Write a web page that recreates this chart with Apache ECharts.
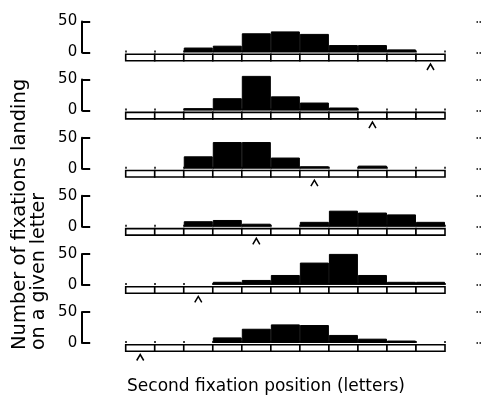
<!DOCTYPE html>
<html>
<head>
<meta charset="utf-8">
<script src="https://cdn.jsdelivr.net/npm/echarts@6/dist/echarts.min.js"></script>
<style>
  html, body { margin: 0; padding: 0; background: #fff; }
  #main { width: 481px; height: 406px; }
</style>
</head>
<body>
<div id="main"></div>
<script>
// letter positions along the strip
var letters = ["1", "2", "3", "4", "5", "6", "7", "8", "9", "10", "11"];
// fixation counts per letter, one array per panel (top to bottom)
var panel1 = [0, 0, 8, 11, 31, 34, 30, 12, 12, 5, 0];
var panel2 = [0, 0, 4, 20, 56, 23, 13, 5, 0, 0, 0];
var panel3 = [0, 0, 20, 43, 43, 18, 4, 0, 5, 0, 0];
var panel4 = [0, 0, 9, 11, 5, 0, 8, 26, 23, 20, 8];
var panel5 = [0, 0, 0, 5, 8, 16, 36, 50, 16, 5, 5];
var panel6 = [0, 0, 0, 9, 23, 30, 29, 13, 7, 4, 0];
// letter marked by the caret under each strip (1-based)
var carets = [11, 9, 7, 5, 3, 1];
var yTicks = [0, 50];

var panels = [panel1, panel2, panel3, panel4, panel5, panel6];

var chartDom = document.getElementById("main");
var myChart = echarts.init(chartDom);
var font = "DejaVu Sans";

// draws the row of letter boxes under the bars, plus the caret
function renderStrip(params, api) {
    var pt = api.coord([api.value(0), 0]);
    var w = api.size([1, 0])[0];
    var y = pt[1];
    var children = [
        {
            type: "rect",
            shape: { x: pt[0] - w / 2, y: y + 1.8, width: w, height: 6.5 },
            style: { fill: "#fff", stroke: "#000", lineWidth: 1.6 },
        },
    ];
    if (api.value(2)) {
        children.push({
            type: "polyline",
            shape: {
                points: [
                    [pt[0] - 3.5, y + 17.5],
                    [pt[0], y + 11.5],
                    [pt[0] + 3.5, y + 17.5],
                ],
            },
            style: { fill: null, stroke: "#000", lineWidth: 1.5 },
        });
    }
    return { type: "group", children: children };
}

var grids = [], xAxes = [], yAxes = [], series = [];
for (let i = 0; i < panels.length; i++) {
    let base = 52.5 + 58.1 * i;
    grids.push({ left: 125.7, width: 319.3, top: base - 31, height: 31 });
    xAxes.push({
        type: "category",
        gridIndex: i,
        data: letters,
        boundaryGap: true,
        axisLine: { show: false },
        axisLabel: { show: false },
        axisTick: { show: true, inside: true, length: 2, lineStyle: { color: "#000", width: 1.5 } },
        splitLine: { show: false },
    });
    // left bracket axis
    yAxes.push({
        type: "value",
        gridIndex: i,
        min: yTicks[0],
        max: yTicks[1],
        interval: yTicks[1] - yTicks[0],
        offset: 43.5,
        axisLine: { show: true, lineStyle: { color: "#000", width: 2 } },
        axisTick: { show: true, inside: true, length: 8, lineStyle: { color: "#000", width: 2 } },
        axisLabel: { color: "#000", fontSize: 15, fontFamily: font, margin: 5 },
        splitLine: { show: false },
    });
    // faint marks at the right edge
    yAxes.push({
        type: "value",
        gridIndex: i,
        position: "right",
        min: yTicks[0],
        max: yTicks[1],
        interval: yTicks[1] - yTicks[0],
        offset: 36,
        axisLine: { show: false },
        axisTick: { show: true, inside: true, length: 6, lineStyle: { color: "#000", width: 1.5, type: "dotted" } },
        axisLabel: { show: false },
        splitLine: { show: false },
    });
    // empty letters get no outline so only the baseline dots show
    let bars = panels[i].map(function (v) {
        return v ? v : { value: v, itemStyle: { borderWidth: 0 } };
    });
    series.push({
        type: "bar",
        xAxisIndex: i,
        yAxisIndex: i * 2,
        data: bars,
        barCategoryGap: "0%",
        clip: false,
        silent: true,
        itemStyle: { color: "#000", borderColor: "#000", borderWidth: 1 },
    });
    let strip = [];
    for (let k = 0; k < letters.length; k++) {
        strip.push([k, 0, carets[i] === k + 1 ? 1 : 0]);
    }
    series.push({
        type: "custom",
        xAxisIndex: i,
        yAxisIndex: i * 2,
        data: strip,
        encode: { x: 0, y: 1 },
        renderItem: renderStrip,
        silent: true,
        z: 3,
    });
}

var option = {
    backgroundColor: "#fff",
    animation: false,
    grid: grids,
    xAxis: xAxes,
    yAxis: yAxes,
    series: series,
    graphic: [
        {
            type: "text",
            x: 20,
            y: 350,
            rotation: Math.PI / 2,
            style: {
                text: "Number of fixations landing",
                fill: "#000",
                font: "19.5px " + font,
                textAlign: "left",
                textVerticalAlign: "middle",
            },
        },
        {
            type: "text",
            x: 39,
            y: 350,
            rotation: Math.PI / 2,
            style: {
                text: "on a given letter",
                fill: "#000",
                font: "19px " + font,
                textAlign: "left",
                textVerticalAlign: "middle",
            },
        },
        {
            type: "text",
            x: 266,
            y: 387,
            style: {
                text: "Second fixation position (letters)",
                fill: "#000",
                font: "17px " + font,
                textAlign: "center",
                textVerticalAlign: "middle",
            },
        },
    ],
};

option && myChart.setOption(option);
</script>
</body>
</html>
